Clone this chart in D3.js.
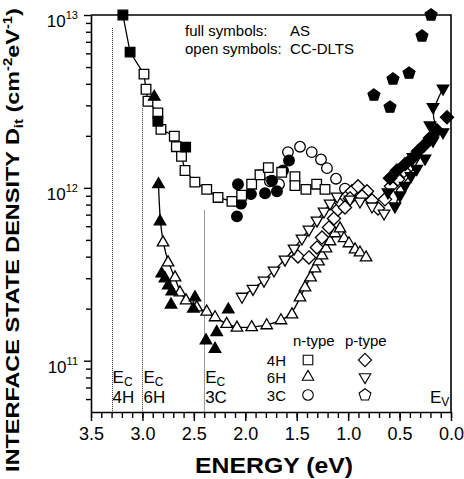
<!DOCTYPE html>
<html><head><meta charset="utf-8">
<script src="https://cdn.jsdelivr.net/npm/d3@7"></script>
<style>
body{margin:0;background:#fff}
svg{display:block}
text{font-family:"Liberation Sans",Arial,Helvetica,sans-serif;fill:#000}
</style>
</head><body>
<svg id="c" width="464" height="479"></svg>
<script>
// ---------------- data ----------------
const xTicks = [3.5, 3.0, 2.5, 2.0, 1.5, 1.0, 0.5, 0.0];
const yTickExps = [11, 12, 13];

// 4H n-type
const n4H_AS = [[3.19,1.0e13],[3.12,6.1e12],[2.85,2.43e12],[2.58,1.72e12]];
const n4H_DLTS = [[2.985,4.55e12],[2.965,3.72e12],[2.946,3.17e12],[2.85,2.71e12],[2.82,2.18e12],[2.69,1.99e12],[2.67,1.73e12],[2.62,1.52e12],[2.586,1.26e12],[2.49,1.08e12],[2.375,0.98e12],[2.265,0.88e12],[2.13,0.835e12],[2.035,0.906e12],[1.938,1.05e12],[1.857,1.19e12],[1.776,1.31e12],[1.646,1.23e12],[1.517,1.16e12],[1.517,1.03e12],[1.41,0.98e12],[1.306,1.05e12],[1.225,0.98e12]];
// 3C n-type
const n3C_AS = [[2.081,6.84e11],[2.071,1.05e12],[2.042,8.1e11],[1.945,9.2e11],[1.808,9.3e11],[1.692,9.55e11],[1.74,1.1e12],[1.633,1.26e12],[1.575,1.44e12]];
const n3C_DLTS = [[1.76,1.09e12],[1.672,1.05e12],[1.585,1.61e12],[1.468,1.73e12],[1.354,1.61e12],[1.264,1.46e12],[1.206,1.30e12],[1.118,1.13e12],[1.031,0.99e12]];
// 6H n-type
const n6H_AS = [[2.885,3.36e12],[2.844,1.048e12],[2.829,6.39e11],[2.813,3.19e11],[2.781,2.99e11],[2.749,2.72e11],[2.715,2.51e11],[2.722,2.11e11],[2.489,2.32e11],[2.505,2.0e11],[2.165,1.975e11],[2.278,1.46e11],[2.382,1.31e11],[2.294,1.17e11]];
const n6H_DLTS = [[2.800,4.83e11],[2.751,3.70e11],[2.683,3.03e11],[2.635,2.48e11],[2.576,2.23e11],[2.472,2.03e11],[2.375,1.92e11],[2.294,1.78e11],[2.181,1.63e11],[2.081,1.55e11],[1.938,1.56e11],[1.792,1.60e11],[1.653,1.71e11],[1.546,1.85e11],[1.468,2.32e11],[1.419,2.65e11],[1.365,3.03e11],[1.322,3.41e11],[1.288,3.75e11],[1.254,4.06e11],[1.215,4.46e11],[1.176,4.90e11],[1.128,5.45e11],[1.079,5.82e11],[1.040,5.10e11],[0.992,4.77e11],[0.933,4.40e11],[0.885,4.22e11],[0.826,3.95e11]];
// 6H p-type
const p6H_DLTS = [[2.032,2.35e11],[1.925,2.61e11],[1.818,2.91e11],[1.721,3.33e11],[1.614,3.85e11],[1.526,4.46e11],[1.449,5.10e11],[1.381,5.74e11],[1.303,6.48e11],[1.235,7.31e11],[1.176,8.13e11],[1.108,8.93e11],[0.982,8.58e11],[0.885,8.35e11],[0.768,7.82e11],[0.651,7.12e11]];
const p6H_AS = [[0.613,9.42e11],[0.545,7.82e11],[0.496,9.06e11],[0.447,1.03e12],[0.389,1.17e12],[0.333,1.29e12],[0.370,1.51e12],[0.253,1.48e12],[0.175,1.88e12],[0.078,2.10e12],[0.204,2.30e12],[0.175,2.94e12],[0.078,3.76e12]];
// 4H p-type
const p4H_DLTS = [[1.488,4.01e11],[1.381,3.96e11],[1.303,4.52e11],[1.254,5.16e11],[1.186,5.90e11],[1.138,6.65e11],[1.099,7.50e11],[1.070,8.24e11],[1.021,8.80e11],[0.963,9.55e11],[0.904,1.02e12],[0.817,9.55e11],[0.768,8.47e11],[0.710,7.61e11],[0.642,8.58e11],[0.583,1.02e12],[0.515,1.12e12],[0.457,1.25e12],[1.031,7.71e11],[0.982,8.69e11],[0.865,8.93e11]];
const p4H_AS = [[0.593,1.135e12],[0.525,1.26e12],[0.447,1.37e12],[0.379,1.48e12],[0.321,1.63e12],[0.263,1.76e12],[0.204,1.94e12],[0.136,2.15e12],[0.039,2.56e12]];
// 3C p-type
const p3C_AS = [[0.194,1.0e13],[0.282,7.55e12],[0.408,4.61e12],[0.564,4.26e12],[0.749,3.44e12],[0.593,2.93e12]];

// conduction band edges: energy, top of dotted line, label
const ecE = [3.3, 3.0, 2.4];
const ecTop = [8.4e12, 2.89e12, 7.4e11];
const ecLabels = ["4H", "6H", "3C"];

const legendRows = ["4H", "6H", "3C"];
const legendN = ["square", "triUp", "circle"];
const legendP = ["diamond", "triDown", "pentagon"];

// ---------------- drawing ----------------
const svg = d3.select("#c");
const x = d3.scaleLinear().domain([3.5, 0]).range([91, 451]);
const y = d3.scaleLog().domain([5.05e10, 1e13]).range([412, 15]);
const FONT = '"Liberation Sans",Arial,Helvetica,sans-serif';

function symPath(type) {
  if (type === "square") { const a = 9.6; return `M${-a/2},${-a/2}h${a}v${a}h${-a}Z`; }
  if (type === "circle") { const r = 5.3; return `M${r},0A${r},${r} 0 1,1 ${-r},0A${r},${r} 0 1,1 ${r},0Z`; }
  if (type === "triUp") { const a = 11.5, h = a*0.866; return `M0,${-h*2/3}L${a/2},${h/3}L${-a/2},${h/3}Z`; }
  if (type === "triDown") { const a = 11.5, h = a*0.866; return `M0,${h*2/3}L${a/2},${-h/3}L${-a/2},${-h/3}Z`; }
  if (type === "diamond") { const r = 6.6; return `M0,${-r}L${r},0L0,${r}L${-r},0Z`; }
  if (type === "pentagon") {
    const r = 6.2; let p = "";
    for (let k = 0; k < 5; k++) { const a = (-90 + 72*k) * Math.PI/180; p += (k ? "L" : "M") + (r*Math.cos(a)).toFixed(2) + "," + (r*Math.sin(a)).toFixed(2); }
    return p + "Z";
  }
}

// dotted Ec lines
ecE.forEach((e, i) => {
  const px = Math.round(x(e)) + 0.5;
  svg.append("line").attr("x1", px).attr("x2", px).attr("y1", y(ecTop[i])).attr("y2", y.range()[0])
    .attr("stroke", "#333").attr("stroke-width", 1).attr("stroke-dasharray", "1,1");
  const t1 = svg.append("text").attr("x", x(e) + 1).attr("y", 383).attr("font-size", 17);
  t1.append("tspan").text("E");
  t1.append("tspan").attr("font-size", 12).attr("dy", 3).text("C");
  svg.append("text").attr("x", x(e) + 1).attr("y", 403).attr("font-size", 17).text(ecLabels[i]);
});
{
  const t = svg.append("text").attr("x", 430).attr("y", 403).attr("font-size", 17);
  t.append("tspan").text("E");
  t.append("tspan").attr("font-size", 12).attr("dy", 3).text("V");
}

// guide lines
const lineGen = d3.line().x(d => x(d[0])).y(d => y(d[1]));
function drawLine(data, curve) {
  svg.append("path").attr("d", lineGen.curve(curve || d3.curveLinear)(data))
    .attr("fill", "none").attr("stroke", "#000").attr("stroke-width", 1.3);
}
drawLine(n4H_AS.slice(0, 2).concat(n4H_DLTS.filter(d => d[0] >= 2.13)));
drawLine(n6H_AS.slice(1, 3).concat(n6H_DLTS.filter(d => d[0] >= 1.079)), d3.curveBasis);
drawLine(p6H_DLTS.filter(d => d[0] >= 1.1));
drawLine(p6H_AS.slice().sort((a, b) => a[1] - b[1]), d3.curveBundle.beta(0.6));

// markers
function drawSeries(data, type, filled) {
  svg.append("g").selectAll("path").data(data).join("path")
    .attr("transform", d => `translate(${x(d[0])},${y(d[1])})`)
    .attr("d", symPath(type))
    .attr("fill", filled ? "#000" : "#fff")
    .attr("stroke", "#000").attr("stroke-width", 1.3);
}
drawSeries(n3C_DLTS, "circle", false);
drawSeries(n3C_AS, "circle", true);
drawSeries(n4H_DLTS, "square", false);
drawSeries(n4H_AS, "square", true);
drawSeries(p4H_DLTS, "diamond", false);
drawSeries(n6H_DLTS, "triUp", false);
drawSeries(n6H_AS, "triUp", true);
drawSeries(p6H_DLTS, "triDown", false);
drawSeries(p4H_AS, "diamond", true);
drawSeries(p6H_AS, "triDown", true);
drawSeries(p3C_AS, "pentagon", true);

// axes
const xMinor = d3.range(0, 36).map(i => i / 10);
const gxm = svg.append("g").attr("transform", "translate(0,412)")
  .call(d3.axisBottom(x).tickValues(xMinor).tickSize(6).tickFormat(""));
gxm.select(".domain").remove();
const gx = svg.append("g").attr("transform", "translate(0,412)")
  .call(d3.axisBottom(x).tickValues(xTicks).tickSize(9).tickSizeOuter(0).tickPadding(6).tickFormat(d3.format(".1f")));
gx.selectAll("text").attr("font-size", 18).attr("font-family", FONT);

const yMinor = [];
[1e10, 1e11, 1e12].forEach(b => { for (let m = 2; m <= 9; m++) { const v = b*m; if (v >= 5.05e10 && v <= 1e13) yMinor.push(v); } });
const gym = svg.append("g").attr("transform", "translate(91,0)")
  .call(d3.axisLeft(y).tickValues(yMinor).tickSize(5).tickFormat(""));
gym.select(".domain").remove();
const gy = svg.append("g").attr("transform", "translate(91,0)")
  .call(d3.axisLeft(y).tickValues(yTickExps.map(e => Math.pow(10, e))).tickSize(7).tickSizeOuter(0).tickFormat(""));
svg.selectAll(".tick line").attr("stroke", "#000").attr("stroke-width", 1.4);
svg.selectAll(".domain").attr("stroke", "#000").attr("stroke-width", 1.6);

// frame
svg.append("path").attr("d", `M${x(3.5)},${y(1e13)}H${x(0)}V${y.range()[0]}`)
  .attr("fill", "none").attr("stroke", "#000").attr("stroke-width", 1.6);

// y tick labels
yTickExps.forEach(e => {
  const t = svg.append("text").attr("x", 78).attr("y", y(Math.pow(10, e)) + 12).attr("text-anchor", "end").attr("font-size", 17);
  t.append("tspan").text("10");
  t.append("tspan").attr("font-size", 11).attr("dy", -8).text(String(e));
});

// axis titles
function fitText(t, target) {
  const w = t.node().getBBox().width;
  return target / w;
}
const xt = svg.append("text").attr("text-anchor", "middle").attr("font-size", 22).attr("font-weight", "bold").text("ENERGY (eV)");
{
  const s = fitText(xt, 158);
  xt.attr("transform", `translate(274,473) scale(${s},1)`);
}
const yt = svg.append("text").attr("text-anchor", "middle").attr("font-size", 19).attr("font-weight", "bold");
yt.append("tspan").text("INTERFACE STATE DENSITY D");
yt.append("tspan").attr("font-size", 12).attr("dy", 4).text("it");
yt.append("tspan").attr("dy", -4).text(" (cm");
yt.append("tspan").attr("font-size", 12).attr("dy", -7).text("-2");
yt.append("tspan").attr("dy", 7).text("eV");
yt.append("tspan").attr("font-size", 12).attr("dy", -7).text("-1");
yt.append("tspan").attr("dy", 7).text(")");
{
  const s = fitText(yt, 464);
  yt.attr("transform", `translate(18.5,240) rotate(-90) scale(${s},1)`);
}

// top annotation
svg.append("text").attr("x", 185).attr("y", 36).attr("font-size", 15).text("full symbols:");
svg.append("text").attr("x", 290).attr("y", 36).attr("font-size", 15).text("AS");
svg.append("text").attr("x", 185).attr("y", 54).attr("font-size", 15).text("open symbols:");
svg.append("text").attr("x", 290).attr("y", 54).attr("font-size", 15).text("CC-DLTS");

// legend
svg.append("text").attr("x", 293).attr("y", 346).attr("font-size", 15).text("n-type");
svg.append("text").attr("x", 345).attr("y", 346).attr("font-size", 15).text("p-type");
const legY = [360, 377, 395];
legendRows.forEach((r, i) => {
  svg.append("text").attr("x", 286).attr("y", legY[i] + 5.5).attr("text-anchor", "end").attr("font-size", 15).text(r);
  svg.append("path").attr("transform", `translate(308,${legY[i]})`).attr("d", symPath(legendN[i]))
    .attr("fill", "#fff").attr("stroke", "#000").attr("stroke-width", 1.1);
  svg.append("path").attr("transform", `translate(365,${legY[i]})`).attr("d", symPath(legendP[i]))
    .attr("fill", "#fff").attr("stroke", "#000").attr("stroke-width", 1.1);
});
</script>
</body></html>
